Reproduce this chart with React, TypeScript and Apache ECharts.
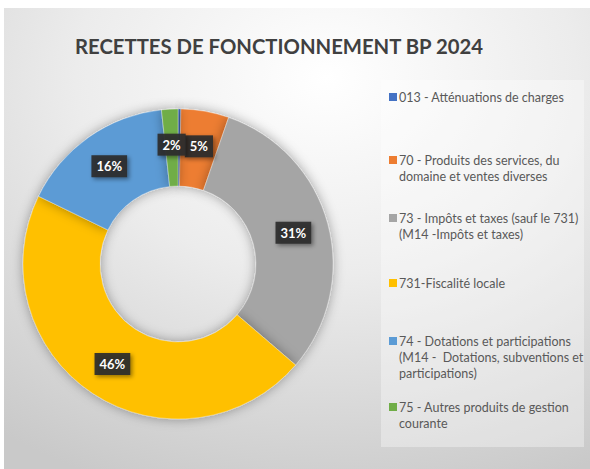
import React, { useEffect, useRef } from "react";
import * as echarts from "echarts";

const TITLE = "RECETTES DE FONCTIONNEMENT BP 2024";
const categories = [
  "013 - Atténuations de charges",
  "70 - Produits des services, du domaine et ventes diverses",
  "73 - Impôts et taxes (sauf le 731) (M14 -Impôts et taxes)",
  "731-Fiscalité locale",
  "74 - Dotations et participations (M14 -  Dotations, subventions et participations)",
  "75 - Autres produits de gestion courante",
];
const legendLines = [
  ["013 - Atténuations de charges"],
  ["70 - Produits des services, du", "domaine et ventes diverses"],
  ["73 - Impôts et taxes (sauf le 731)", "(M14 -Impôts et taxes)"],
  ["731-Fiscalité locale"],
  ["74 - Dotations et participations", "(M14 -  Dotations, subventions et", "participations)"],
  ["75 - Autres produits de gestion", "courante"],
];
const values = [0.3, 5.0, 31.0, 45.9, 16.1, 1.7];
const colors = ["#4472C4", "#ED7D31", "#A5A5A5", "#FFC000", "#5B9BD5", "#70AD47"];
const legendTops = [89, 152, 210, 275, 333, 399];

const W = 586;
const H = 461;
const FONT = "Lato, 'Open Sans', sans-serif";
const LH = 16;

function iconPath(n: number) {
  const h = n * LH;
  const s = (LH - 8) / 2;
  return (
    `path://M0,0L8,0L8,0.01L0,0.01Z` +
    `M0,${s}L8,${s}L8,${s + 8}L0,${s + 8}Z` +
    `M0,${h - 0.01}L8,${h - 0.01}L8,${h}L0,${h}Z`
  );
}

export default function App() {
  const ref = useRef<HTMLDivElement>(null);
  useEffect(() => {
    if (!ref.current) return;
    const chart = echarts.init(ref.current, undefined, { renderer: "svg" });
    const legends = categories.map((name, i) => {
      const n = legendLines[i].length;
      return {
        show: true,
        orient: "vertical",
        left: 385,
        top: legendTops[i] - LH / 2,
        padding: 0,
        itemWidth: 8,
        itemHeight: n * LH,
        itemGap: 0,
        icon: iconPath(n),
        selectedMode: false,
        itemStyle: { borderWidth: 0, shadowBlur: 0 },
        data: [name],
        formatter: () => legendLines[i].join("\n"),
        textStyle: {
          fontFamily: FONT,
          fontSize: 12.5,
          color: "#595959",
          lineHeight: LH,
          padding: [0, 0, 0, -3],
        },
      };
    });
    const option: any = {
      animation: false,
      color: colors,
      title: {
        text: TITLE,
        left: 71,
        top: 28,
        padding: 0,
        textStyle: { fontFamily: FONT, fontSize: 20.3, fontWeight: "bold", color: "#404040" },
      },
      graphic: [
        {
          type: "rect",
          z: -10,
          silent: true,
          shape: { x: 0, y: 0, width: W, height: H },
          style: {
            fill: new echarts.graphic.RadialGradient(0.55, 0.15, 0.95, [
              { offset: 0, color: "#ffffff" },
              { offset: 0.45, color: "#ececec" },
              { offset: 1, color: "#c9c9c9" },
            ]),
          },
        },
        {
          type: "rect",
          z: -5,
          silent: true,
          shape: { x: 377, y: 72, width: 203, height: 367 },
          style: { fill: "rgba(255,255,255,0.35)" },
        },
      ],
      legend: legends,
      series: [
        {
          type: "pie",
          center: [174, 256],
          radius: [78, 155],
          startAngle: 90,
          clockwise: true,
          avoidLabelOverlap: false,
          labelLayout: { hideOverlap: false },
          itemStyle: {
            borderColor: "rgba(255,255,255,0.6)",
            borderWidth: 0.5,
            shadowBlur: 12,
            shadowColor: "rgba(0,0,0,0.35)",
          },
          label: {
            show: true,
            position: "inside",
            formatter: (p: any) => Math.round(p.percent) + "%",
            fontFamily: FONT,
            fontSize: 13,
            fontWeight: "bold",
            color: "#ffffff",
            backgroundColor: "rgba(45,45,45,0.92)",
            padding: [5, 5, 4, 5],
            shadowBlur: 4,
            shadowColor: "rgba(0,0,0,0.45)",
            shadowOffsetX: 2,
            shadowOffsetY: 2,
          },
          labelLine: { show: false },
          emphasis: { disabled: true },
          data: categories.map((name, i) => ({
            name,
            value: values[i],
            label: values[i] < 1 ? { show: false } : undefined,
          })),
        },
      ],
    };
    chart.setOption(option);
    return () => chart.dispose();
  }, []);
  return (
    <div
      ref={ref}
      style={{ position: "absolute", left: 4, top: 8, width: W, height: H }}
    />
  );
}
